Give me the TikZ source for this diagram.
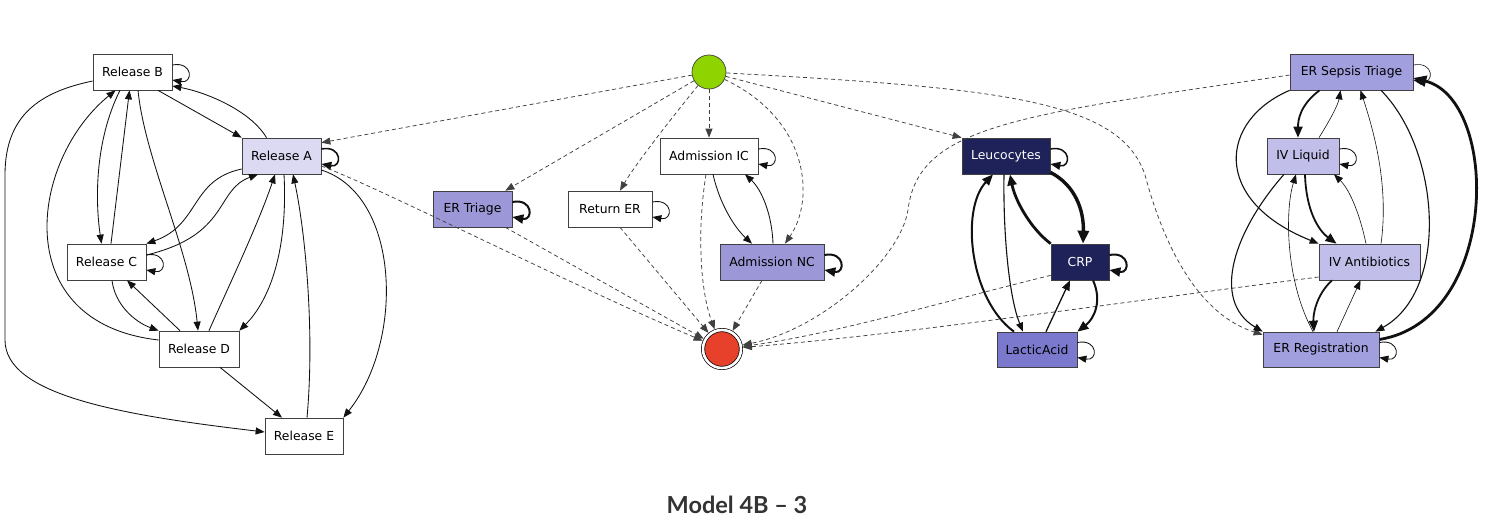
\documentclass[tikz,border=0pt]{standalone}
\usepackage{fontspec}
\usetikzlibrary{arrows.meta}
\newfontfamily\nodefont{DejaVu Sans}
\newfontfamily\titlefont{Lato}
\definecolor{boxline}{HTML}{404040}
\definecolor{edgecol}{HTML}{111111}
\definecolor{dashgray}{HTML}{404040}
\definecolor{cA}{HTML}{DCD9F2}
\definecolor{cMid}{HTML}{9C98D8}
\definecolor{cDark}{HTML}{1E2259}
\definecolor{cLac}{HTML}{7B79CD}
\definecolor{cSep}{HTML}{A29FDF}
\definecolor{cIV}{HTML}{C1BFE9}
\definecolor{cGreen}{HTML}{8FD400}
\definecolor{cRed}{HTML}{E8412B}
\definecolor{titlegray}{HTML}{333333}
\newcommand\myloop[2][]{\draw[edge,#1] ([yshift=7]#2.east) .. controls +(21,4) and +(21,-4) .. ([yshift=-8]#2.east);}
\begin{document}
\begin{tikzpicture}[x=1pt,y=1pt,
  box/.style={draw=boxline, line width=0.7pt, rectangle, fill=white, inner sep=0pt, minimum height=36pt, font=\nodefont\fontsize{12.4}{14}\selectfont},
  edge/.style={draw=edgecol, line width=0.85pt, -{Triangle[length=9pt,width=7pt]}},
  medge/.style={edge, line width=1.3pt, -{Triangle[length=10pt,width=8pt]}},
  tedge/.style={edge, line width=2pt, -{Triangle[length=11pt,width=9pt]}},
  xedge/.style={edge, line width=3.4pt, -{Triangle[length=13pt,width=11pt]}},
  dedge/.style={draw=dashgray, line width=0.75pt, dash pattern=on 4pt off 3pt, -{Triangle[length=9pt,width=7pt]}},
]
\useasboundingbox (0,0) rectangle (1494,-524);
\fill[white] (0,0) rectangle (1494,-524);

% nodes
\node[box, minimum width=79pt] (relB) at (132.5,-72) {Release B};
\node[box, fill=cA, minimum width=79pt] (relA) at (281.5,-156) {Release A};
\node[box, minimum width=79pt] (relC) at (106.5,-262) {Release C};
\node[box, minimum width=80pt] (relD) at (199,-349) {Release D};
\node[box, minimum width=78pt] (relE) at (304,-436) {Release E};

\node[circle, draw=boxline, line width=0.7pt, fill=cGreen, minimum size=34pt, inner sep=0pt] (start) at (709,-72) {};
\node[box, minimum width=98pt] (admIC) at (709,-156) {Admission IC};
\node[box, fill=cMid, minimum width=79pt] (erTri) at (472.5,-209) {ER Triage};
\node[box, minimum width=84pt] (retER) at (610,-209) {Return ER};
\node[box, fill=cMid, minimum width=104pt] (admNC) at (772,-262) {Admission NC};
\node[circle, draw=black, line width=0.7pt, double=white, double distance=2.6pt, fill=cRed, minimum size=38pt, outer sep=2pt, inner sep=0pt] (end) at (722,-349) {};

\node[box, fill=cDark, text=white, minimum width=88pt] (leu) at (1006,-156) {Leucocytes};
\node[box, fill=cDark, text=white, minimum width=58pt] (crp) at (1080,-262) {CRP};
\node[box, fill=cLac, minimum width=80pt, minimum height=35pt] (lac) at (1037,-349.5) {LacticAcid};
\node[box, fill=cSep, minimum width=123pt] (sep) at (1351.5,-72) {ER Sepsis Triage};
\node[box, fill=cIV, minimum width=72pt] (ivl) at (1303,-156) {IV Liquid};
\node[box, fill=cIV, minimum width=101pt] (iva) at (1369.5,-262) {IV Antibiotics};
\node[box, fill=cSep, minimum width=116pt, minimum height=35pt] (reg) at (1321,-349.5) {ER Registration};

\node[font=\titlefont\bfseries\fontsize{23.5}{28}\selectfont, text=titlegray] (title) at (737,-505) {Model 4B – 3};

% left cluster
\draw[edge] ([xshift=25.5]relB.south) -- (relA.north west);
\draw[edge] ([xshift=-15]relA.north) .. controls (250,-110) and (205,-92) .. ([yshift=-14]relB.east);
\draw[edge] ([xshift=-12.5]relB.south) .. controls (95,-140) and (95,-200) .. ([xshift=-5]relC.north);
\draw[edge] ([xshift=4.5]relC.north) -- ([xshift=-3]relB.south);
\draw[edge] ([yshift=9]relD.west) .. controls (7,-323) and (30,-160) .. ([xshift=-17]relB.south);
\draw[edge] ([xshift=5.5]relB.south) .. controls (145,-160) and (190,-250) .. ([xshift=-1]relD.north);
\draw[edge] ([yshift=-9]relB.west) .. controls (40,-92) and (5,-115) .. (5,-175) -- (5,-340) .. controls (5,-395) and (120,-415) .. ([yshift=4]relE.west);
\draw[edge] ([yshift=-13]relA.west) .. controls (190,-180) and (200,-225) .. (relC.north east);
\draw[edge] ([yshift=7]relC.east) .. controls (230,-235) and (215,-190) .. ([xshift=-23.5]relA.south);
\draw[edge] ([xshift=5.5]relC.south) .. controls (115,-305) and (135,-322) .. (relD.north west);
\draw[edge] ([xshift=-19]relD.north) -- ([xshift=20.5]relC.south);
\draw[edge] ([xshift=10]relD.north) .. controls (226,-292) and (258,-225) .. ([xshift=-6.5]relA.south);
\draw[edge] ([xshift=2.5]relA.south) .. controls (288,-250) and (270,-300) .. (relD.north east);
\draw[edge] ([yshift=-14]relA.east) .. controls (400,-195) and (405,-340) .. (relE.north east);
\draw[edge] ([xshift=3]relE.north) .. controls (315,-330) and (305,-230) .. ([xshift=11.5]relA.south);
\draw[edge] ([xshift=21]relD.south) -- ([xshift=-22]relE.north);
\myloop{relB}
\myloop[line width=1.6pt,-{Triangle[length=10pt,width=8pt]}]{relA}
\myloop{relC}

% start edges
\draw[dedge] (start) -- ([yshift=-5]relA.north east);
\draw[dedge] (start) -- ([xshift=-7]erTri.north east);
\draw[dedge] (start) .. controls (670,-120) and (635,-165) .. ([xshift=10]retER.north);
\draw[dedge] (start) -- (admIC);
\draw[dedge] (start) .. controls (810,-120) and (815,-200) .. ([xshift=13]admNC.north);
\draw[dedge] (start) -- (leu.north west);
\draw[dedge] (start) .. controls (1000,-88) and (1120,-100) .. (1145,-175) .. controls (1165,-250) and (1200,-315) .. ([yshift=-3]reg.north west);

% end edges
\draw[dedge] ([yshift=-10]relA.east) .. controls (380,-188) and (560,-280) .. (end);
\draw[dedge] ([xshift=-7]erTri.south east) -- (end);
\draw[dedge] ([xshift=10]retER.south) -- (end);
\draw[dedge] ([xshift=-3]admIC.south) .. controls (697,-230) and (700,-290) .. (end);
\draw[dedge] ([xshift=-10]admNC.south) -- (end);
\draw[dedge] ([yshift=-3]sep.west) .. controls (1020,-115) and (918,-125) .. (908,-210) .. controls (900,-260) and (820,-330) .. (end);
\draw[dedge] ([yshift=5]crp.south west) .. controls (950,-300) and (830,-335) .. (end);
\draw[dedge] ([yshift=-15]iva.west) .. controls (1100,-305) and (900,-335) .. (end);

% middle solid
\draw[edge] ([xshift=4]admIC.south) .. controls (720,-205) and (735,-228) .. ([xshift=-20]admNC.north);
\draw[edge] ([xshift=1]admNC.north) .. controls (772,-215) and (762,-190) .. ([xshift=36]admIC.south);
\myloop{admIC}
\myloop[line width=2pt,-{Triangle[length=11pt,width=9pt]}]{erTri}
\myloop{retER}
\myloop[line width=2pt,-{Triangle[length=11pt,width=9pt]}]{admNC}

% lab cluster
\draw[xedge] ([yshift=2]leu.south east) .. controls (1075,-185) and (1084,-210) .. ([xshift=3]crp.north);
\draw[tedge, line width=2.8pt] (crp.north west) .. controls (1030,-228) and (1015,-200) .. ([xshift=4]leu.south);
\draw[tedge] ([xshift=-23]lac.north) .. controls (970,-300) and (960,-210) .. ([xshift=-13]leu.south);
\draw[edge, line width=1.1pt] ([xshift=-2]leu.south) .. controls (1003,-240) and (1010,-300) .. ([xshift=-14]lac.north);
\draw[medge] ([xshift=9]lac.north) -- ([xshift=-10]crp.south);
\draw[tedge] ([xshift=13]crp.south) .. controls (1102,-300) and (1095,-318) .. (lac.north east);
\myloop[line width=1.5pt,-{Triangle[length=10pt,width=8pt]}]{leu}
\myloop[line width=2pt,-{Triangle[length=11pt,width=9pt]}]{crp}
\myloop{lac}

% sepsis cluster
\draw[tedge, line width=1.8pt] ([xshift=-32]sep.south) .. controls (1300,-105) and (1298,-120) .. ([xshift=-5]ivl.north);
\draw[edge, line width=0.6pt] ([xshift=16]ivl.north) .. controls (1330,-120) and (1338,-105) .. ([xshift=-11]sep.south);
\draw[edge, line width=1.1pt] (sep.south west) .. controls (1220,-120) and (1210,-200) .. (iva.north west);
\draw[edge, line width=0.6pt] ([xshift=11.5]iva.north) .. controls (1390,-180) and (1370,-120) .. ([xshift=9]sep.south);
\draw[edge, line width=1.1pt] ([xshift=29.5]sep.south) .. controls (1440,-150) and (1450,-290) .. ([xshift=-4]reg.north east);
\draw[xedge, line width=2.8pt] ([yshift=10]reg.east) .. controls (1500,-320) and (1500,-100) .. ([yshift=-6]sep.east);
\draw[tedge, line width=1.8pt] ([xshift=2]ivl.south) .. controls (1306,-210) and (1318,-230) .. ([xshift=-33]iva.north);
\draw[edge, line width=0.6pt] ([xshift=-3.5]iva.north) .. controls (1360,-215) and (1350,-190) .. ([xshift=31]ivl.south);
\draw[edge, line width=1.1pt] ([xshift=-19]ivl.south) .. controls (1235,-230) and (1210,-300) .. (reg.north west);
\draw[edge, line width=0.6pt] ([xshift=-8]reg.north) .. controls (1285,-280) and (1285,-210) .. ([xshift=-7]ivl.south);
\draw[tedge, line width=1.8pt] ([xshift=-37.5]iva.south) .. controls (1316,-295) and (1313,-315) .. ([xshift=-7]reg.north);
\draw[edge, line width=0.6pt] ([xshift=16]reg.north) -- ([xshift=-9]iva.south);
\myloop[line width=0.6pt]{sep}
\myloop{ivl}
\myloop{reg}
\end{tikzpicture}
\end{document}
